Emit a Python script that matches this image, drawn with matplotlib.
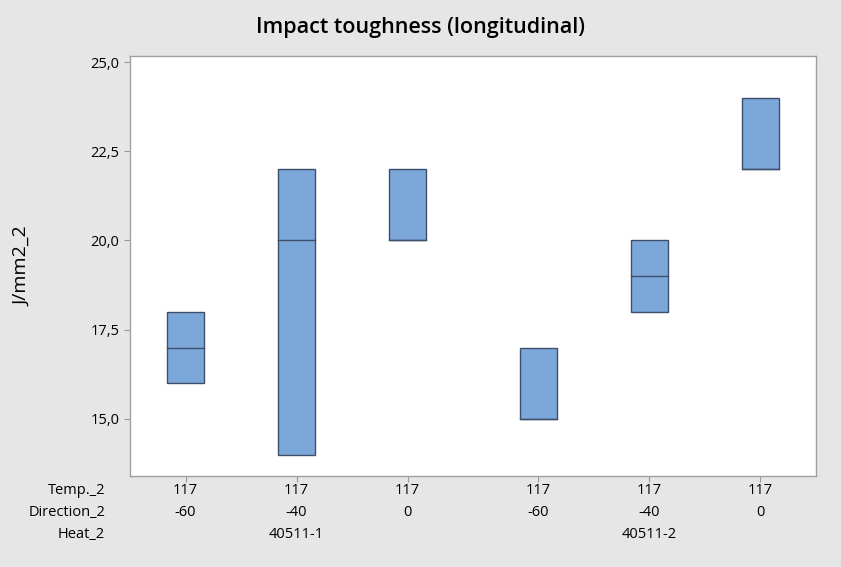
import matplotlib.pyplot as plt
from matplotlib.patches import Rectangle
from matplotlib.transforms import blended_transform_factory

# data (Minitab style boxplot, only a few points per group)
temp = ['117', '117', '117', '117', '117', '117']
direction = ['-60', '-40', '0', '-60', '-40', '0']
heat = ['40511-1', '40511-2']
q1 = [16, 14, 20, 15, 18, 22]
med = [17, 20, 20, 15, 19, 22]
q3 = [18, 22, 22, 17, 20, 24]
positions = [1, 2, 3, 4.18, 5.18, 6.18]

plt.rcParams['font.family'] = ['Open Sans', 'DejaVu Sans']

fig = plt.figure(figsize=(8.41, 5.67), dpi=100, facecolor='#e6e6e6')
ax = fig.add_axes([130/841, 1-476/567, 686/841, 420/567])
ax.set_facecolor('white')

fill = '#7ba7d9'
edge = '#3e4f6b'
w = 0.333
for x, a, m, b in zip(positions, q1, med, q3):
    ax.add_patch(Rectangle((x - w/2, a), w, b - a, facecolor=fill, edgecolor=edge, lw=1.0, zorder=2))
    ax.plot([x - w/2, x + w/2], [m, m], color=edge, lw=1.0, zorder=3)

ax.set_xlim(0.5, 6.68)
ax.set_ylim(13.40, 25.17)
ax.set_yticks([15, 17.5, 20, 22.5, 25])
ax.set_yticklabels(['15,0', '17,5', '20,0', '22,5', '25,0'], fontsize=10.5)
ax.set_xticks(positions)
ax.set_xticklabels([])
ax.tick_params(axis='both', color='#999999', length=4, width=0.8)
for s in ax.spines.values():
    s.set_color('#a0a0a0')
    s.set_linewidth(1.0)

ax.set_ylabel('J/mm2_2', fontsize=14)
ax.yaxis.set_label_coords((31 - 130) / 686, 0.5)
fig.suptitle('Impact toughness (longitudinal)', fontsize=15.5, fontweight='semibold', y=1-27/567, va='center')

tr = blended_transform_factory(ax.transData, fig.transFigure)
rows = [1-491/567, 1-513/567, 1-535/567]
for x, t, d in zip(positions, temp, direction):
    ax.text(x, rows[0], t, transform=tr, ha='center', va='center', fontsize=10.5)
    ax.text(x, rows[1], d, transform=tr, ha='center', va='center', fontsize=10.5)
ax.text(positions[1], rows[2], heat[0], transform=tr, ha='center', va='center', fontsize=10.5)
ax.text(positions[4], rows[2], heat[1], transform=tr, ha='center', va='center', fontsize=10.5)
for y, lab in zip(rows, ['Temp._2', 'Direction_2', 'Heat_2']):
    fig.text(105/841, y, lab, ha='right', va='center', fontsize=10.5)

fig.savefig('out.png', dpi=100, facecolor=fig.get_facecolor())
